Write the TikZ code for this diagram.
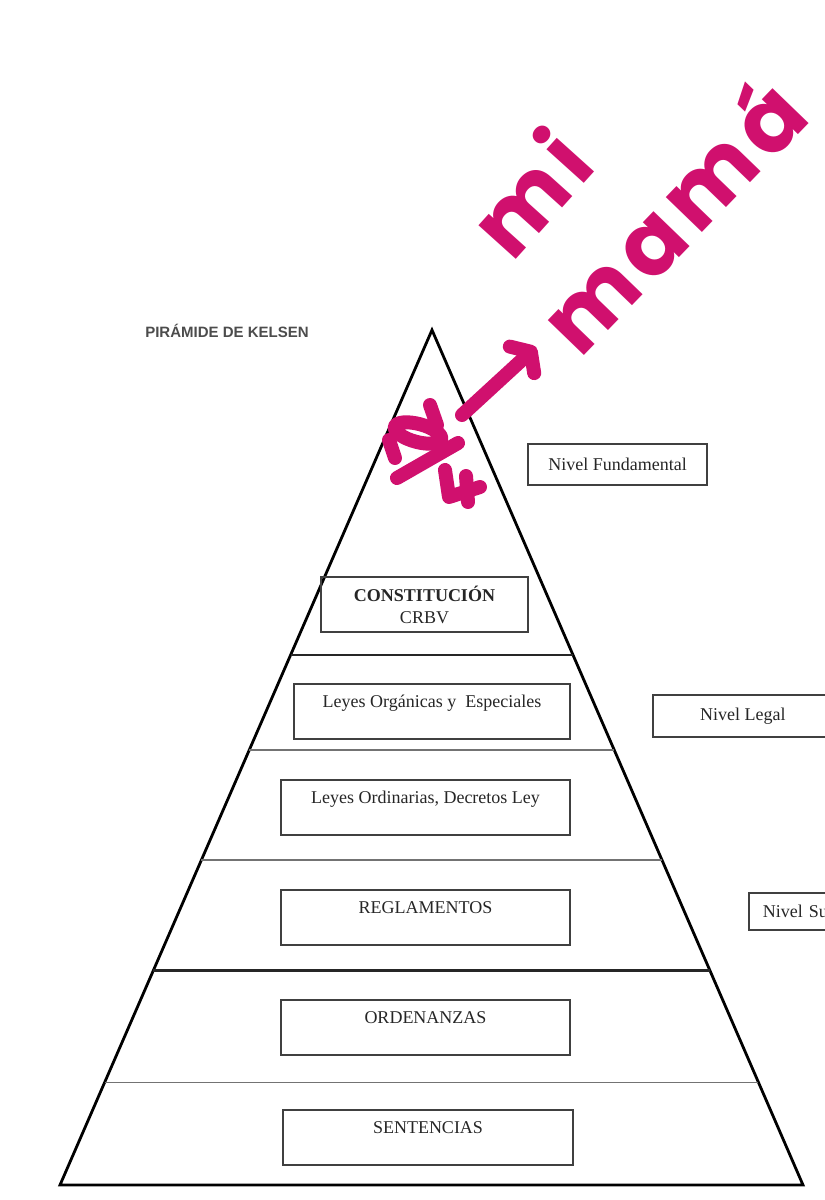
\documentclass[tikz,border=0pt]{standalone}
\usepackage{fontspec}
\setmainfont{Liberation Serif}
\newfontfamily\titlefont{Liberation Sans}
\newfontfamily\handfont[LetterSpace=8]{Poppins}
\usetikzlibrary{arrows.meta, calc}
\definecolor{ink}{RGB}{208,16,110}

\begin{document}
\begin{tikzpicture}[
    x=0.5pt, y=-0.5pt,
    tier/.style={line width=1.3pt, draw=black!85},
    subtier/.style={line width=0.9pt, draw=black!55},
    levelbox/.style={draw=black!75, line width=0.8pt, font=\fontsize{9}{11}\selectfont, text=black!85, minimum height=20.5pt, inner sep=0pt},
    lawbox/.style={draw=black!75, line width=0.8pt, font=\fontsize{9}{11}\selectfont, text=black!85, inner sep=0pt, text height=12pt, text depth=15.5pt},
    marker/.style={draw=ink, line width=7pt, line cap=round, line join=round},
    handtext/.style={text=ink, font=\handfont\bfseries\fontsize{45}{45}\selectfont, inner sep=0pt}
]

\useasboundingbox (0,0) rectangle (825,1200);

% Pyramid
\coordinate (apex) at (432,330);
\coordinate (BL) at (60,1185);
\coordinate (BR) at (803,1185);
\draw[line width=1.4pt] (apex) -- (BL) -- (BR) -- cycle;

% Levels
\foreach \t/\s in {0.380/tier, 0.491/subtier, 0.620/subtier, 0.749/tier, 0.880/subtier}
  \draw[\s] ($(apex)!\t!(BL)$) -- ($(apex)!\t!(BR)$);

% Title
\node[font=\titlefont\bfseries\fontsize{7.5}{9}\selectfont, text=black!70] (title) at (227,331) {PIRÁMIDE DE KELSEN};

% Boxes inside the pyramid
\node[levelbox, minimum width=103.5pt, minimum height=27.5pt, align=center] (constitucion) at (424.5,604.5) {\textbf{CONSTITUCIÓN}\\CRBV};
\node[lawbox, minimum width=138pt, anchor=north] (organicas) at (432,683) {Leyes Orgánicas y~ Especiales};
\node[lawbox, minimum width=144.5pt, anchor=north] (ordinarias) at (425.5,779) {Leyes Ordinarias, Decretos Ley};
\node[lawbox, minimum width=144.5pt, anchor=north] (reglamentos) at (425.5,889) {REGLAMENTOS};
\node[lawbox, minimum width=144.5pt, anchor=north] (ordenanzas) at (425.5,999) {ORDENANZAS};
\node[lawbox, minimum width=145pt, anchor=north] (sentencias) at (428,1109) {SENTENCIAS};

% Level labels
\node[levelbox, minimum width=89.5pt] (fundamental) at (617.5,464.5) {Nivel Fundamental};
\node[levelbox, minimum width=90pt, minimum height=21pt, anchor=west] (legal) at (652,716) {Nivel Legal};
\node[levelbox, minimum height=18.5pt, text width=80pt, align=left, inner xsep=7pt, anchor=west] (sublegal) at (748,911.5) {Nivel Su};

% Handwriting
\node[handtext, rotate=48, anchor=base west] (mi) at (512,264) {mi};
\node[handtext, rotate=46, anchor=base west] (mama) at (580,360) {mamá};

\coordinate (arrowstart) at (462,415);
\coordinate (arrowend) at (536,347);
\draw[marker, -{Straight Barb[length=6pt, width=18pt, round]}] (arrowstart) -- (arrowend);

% Scribble
\draw[marker] (430,405) -- (437,425);
\draw[marker, rotate around={-15:(418,433)}] (418,433) ellipse [x radius=24, y radius=9];
\draw[marker] (389,440) -- (395,458);
\draw[marker] (397,478) -- (458,443);
\draw[marker] (445,470) -- (449,497) -- (480,487);
\draw[marker] (466,476) -- (468,502);

\end{tikzpicture}
\end{document}
